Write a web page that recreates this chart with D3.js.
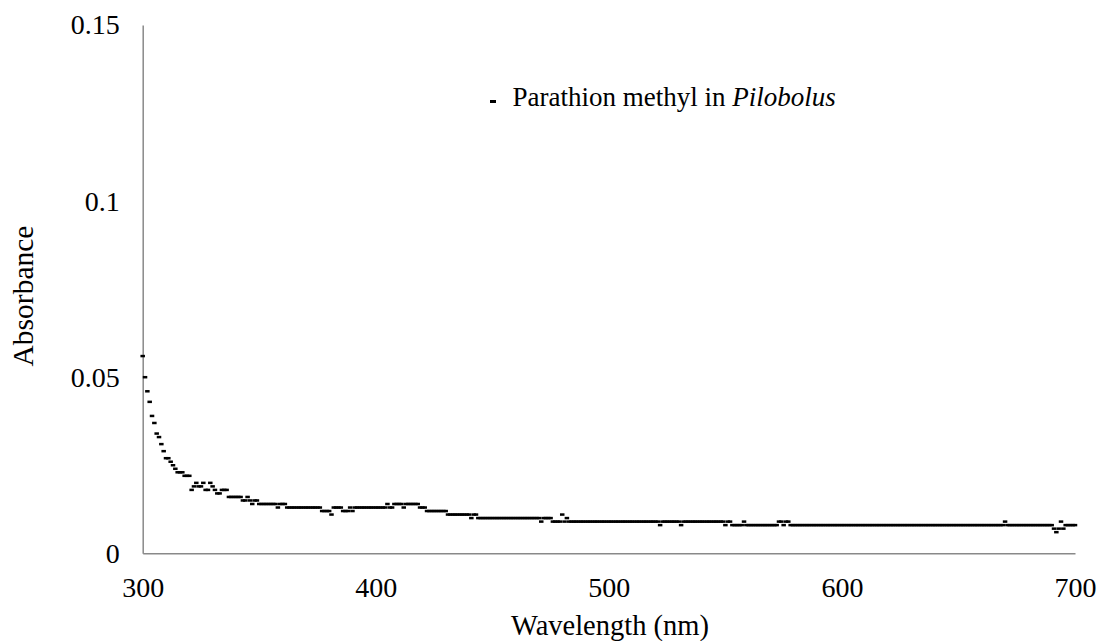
<!DOCTYPE html>
<html>
<head>
<meta charset="utf-8">
<script src="https://cdn.jsdelivr.net/npm/d3@7"></script>
</head>
<body style="margin:0">
<div class="container"></div>
<script>
// Data (one reading per nm, 300-700)
const wavelengths = d3.range(300, 701);
const absorbance = [
  // 300
  0.056, 0.050, 0.046, 0.043, 0.039, 0.037, 0.034, 0.033, 0.031, 0.029,
  // 310
  0.027, 0.027, 0.026, 0.025, 0.024, 0.023, 0.023, 0.023, 0.022, 0.022,
  // 320
  0.022, 0.018, 0.019, 0.020, 0.019, 0.019, 0.020, 0.018, 0.018, 0.020,
  // 330
  0.019, 0.018, 0.017, 0.017, 0.018, 0.018, 0.018, 0.016, 0.016, 0.016,
  // 340
  0.016, 0.016, 0.016, 0.015, 0.015, 0.016, 0.015, 0.014, 0.015, 0.015,
  // 350
  0.014, 0.014, 0.014, 0.014, 0.014, 0.014, 0.014, 0.014, 0.013, 0.014,
  // 360
  0.014, 0.014, 0.013, 0.013, 0.013, 0.013, 0.013, 0.013, 0.013, 0.013,
  // 370
  0.013, 0.013, 0.013, 0.013, 0.013, 0.013, 0.013, 0.012, 0.012, 0.012,
  // 380
  0.012, 0.011, 0.013, 0.013, 0.013, 0.013, 0.012, 0.012, 0.012, 0.013,
  // 390
  0.012, 0.013, 0.013, 0.013, 0.013, 0.013, 0.013, 0.013, 0.013, 0.013,
  // 400
  0.013, 0.013, 0.013, 0.013, 0.013, 0.014, 0.013, 0.013, 0.014, 0.014,
  // 410
  0.014, 0.014, 0.013, 0.014, 0.014, 0.014, 0.014, 0.014, 0.014, 0.013,
  // 420
  0.013, 0.013, 0.012, 0.012, 0.012, 0.012, 0.012, 0.012, 0.012, 0.012,
  // 430
  0.012, 0.011, 0.011, 0.011, 0.011, 0.011, 0.011, 0.011, 0.011, 0.011,
  // 440
  0.011, 0.010, 0.011, 0.011, 0.010, 0.010, 0.010, 0.010, 0.010, 0.010,
  // 450
  0.010, 0.010, 0.010, 0.010, 0.010, 0.010, 0.010, 0.010, 0.010, 0.010,
  // 460
  0.010, 0.010, 0.010, 0.010, 0.010, 0.010, 0.010, 0.010, 0.010, 0.010,
  // 470
  0.010, 0.009, 0.010, 0.010, 0.010, 0.010, 0.009, 0.009, 0.009, 0.009,
  // 480
  0.011, 0.009, 0.010, 0.009, 0.009, 0.009, 0.009, 0.009, 0.009, 0.009,
  // 490
  0.009, 0.009, 0.009, 0.009, 0.009, 0.009, 0.009, 0.009, 0.009, 0.009,
  // 500
  0.009, 0.009, 0.009, 0.009, 0.009, 0.009, 0.009, 0.009, 0.009, 0.009,
  // 510
  0.009, 0.009, 0.009, 0.009, 0.009, 0.009, 0.009, 0.009, 0.009, 0.009,
  // 520
  0.009, 0.009, 0.008, 0.009, 0.009, 0.009, 0.009, 0.009, 0.009, 0.009,
  // 530
  0.009, 0.008, 0.009, 0.009, 0.009, 0.009, 0.009, 0.009, 0.009, 0.009,
  // 540
  0.009, 0.009, 0.009, 0.009, 0.009, 0.009, 0.009, 0.009, 0.009, 0.009,
  // 550
  0.008, 0.009, 0.009, 0.008, 0.008, 0.008, 0.008, 0.008, 0.009, 0.008,
  // 560
  0.008, 0.008, 0.008, 0.008, 0.008, 0.008, 0.008, 0.008, 0.008, 0.008,
  // 570
  0.008, 0.008, 0.008, 0.009, 0.009, 0.008, 0.009, 0.009, 0.008, 0.008,
  // 580
  0.008, 0.008, 0.008, 0.008, 0.008, 0.008, 0.008, 0.008, 0.008, 0.008,
  // 590
  0.008, 0.008, 0.008, 0.008, 0.008, 0.008, 0.008, 0.008, 0.008, 0.008,
  // 600
  0.008, 0.008, 0.008, 0.008, 0.008, 0.008, 0.008, 0.008, 0.008, 0.008,
  // 610
  0.008, 0.008, 0.008, 0.008, 0.008, 0.008, 0.008, 0.008, 0.008, 0.008,
  // 620
  0.008, 0.008, 0.008, 0.008, 0.008, 0.008, 0.008, 0.008, 0.008, 0.008,
  // 630
  0.008, 0.008, 0.008, 0.008, 0.008, 0.008, 0.008, 0.008, 0.008, 0.008,
  // 640
  0.008, 0.008, 0.008, 0.008, 0.008, 0.008, 0.008, 0.008, 0.008, 0.008,
  // 650
  0.008, 0.008, 0.008, 0.008, 0.008, 0.008, 0.008, 0.008, 0.008, 0.008,
  // 660
  0.008, 0.008, 0.008, 0.008, 0.008, 0.008, 0.008, 0.008, 0.008, 0.008,
  // 670
  0.009, 0.008, 0.008, 0.008, 0.008, 0.008, 0.008, 0.008, 0.008, 0.008,
  // 680
  0.008, 0.008, 0.008, 0.008, 0.008, 0.008, 0.008, 0.008, 0.008, 0.008,
  // 690
  0.008, 0.007, 0.006, 0.007, 0.009, 0.007, 0.008, 0.008, 0.008, 0.008,
  // 700
  0.008
];
const xTicks = [300, 400, 500, 600, 700];
const yTicks = [0, 0.05, 0.1, 0.15];
const yTickLabels = ['0', '0.05', '0.1', '0.15'];
const seriesName = 'Parathion methyl in ';
const seriesGenus = 'Pilobolus';

// Layout
const width = 1099;
const height = 641;
const plotLeft = 142.7;
const plotRight = 1075;
const plotTop = 25;
const plotBottom = 553.3;
const axisColor = '#898989';
const font = '"Liberation Serif"';

const points = wavelengths.map((w, i) => ({ w, a: absorbance[i] }));

const x = d3.scaleLinear().domain([300, 700]).range([plotLeft, plotRight]);
const y = d3.scaleLinear().domain([0, 0.15]).range([plotBottom, plotTop]);

const svg = d3
  .select('.container')
  .append('svg')
  .attr('width', width)
  .attr('height', height)
  .style('display', 'block')
  .attr('font-family', font);

// X axis
const xAxis = svg
  .append('g')
  .attr('transform', `translate(0,${plotBottom})`)
  .call(d3.axisBottom(x).tickValues(xTicks).tickSize(0).tickPadding(24).tickFormat(d3.format('d')));
xAxis.attr('font-family', font).attr('font-size', 28);
xAxis.select('.domain').attr('stroke', axisColor).attr('stroke-width', 1.5);
xAxis.selectAll('text').attr('fill', '#000').attr('font-family', font);

// Y axis
const yAxis = svg
  .append('g')
  .attr('transform', `translate(${plotLeft},0)`)
  .call(d3.axisLeft(y).tickValues(yTicks).tickSize(0).tickPadding(23).tickFormat((d, i) => yTickLabels[i]));
yAxis.attr('font-family', font).attr('font-size', 28);
yAxis.select('.domain').attr('stroke', axisColor).attr('stroke-width', 1.5);
yAxis.selectAll('text').attr('fill', '#000').attr('font-family', font);

// Axis titles
svg
  .append('text')
  .attr('x', 610)
  .attr('y', 635)
  .attr('text-anchor', 'middle')
  .attr('font-family', font)
  .attr('font-size', 28.5)
  .text('Wavelength (nm)');

svg
  .append('text')
  .attr('transform', 'translate(33,296) rotate(-90)')
  .attr('text-anchor', 'middle')
  .attr('font-family', font)
  .attr('font-size', 29.5)
  .text('Absorbance');

// Dash markers
svg
  .append('g')
  .attr('class', 'markers')
  .selectAll('rect')
  .data(points)
  .enter()
  .append('rect')
  .attr('x', (d) => x(d.w) - 2.25)
  .attr('y', (d) => y(d.a) - 1.25)
  .attr('width', 4.5)
  .attr('height', 2.5)
  .attr('fill', '#000');

// Legend
const legend = svg.append('g').attr('class', 'legend');
legend
  .append('rect')
  .attr('x', 490)
  .attr('y', 100)
  .attr('width', 6)
  .attr('height', 3)
  .attr('fill', '#000');
const legendText = legend
  .append('text')
  .attr('x', 512.5)
  .attr('y', 106)
  .attr('font-family', font)
  .attr('font-size', 27);
legendText.append('tspan').text(seriesName);
legendText.append('tspan').attr('font-style', 'italic').text(seriesGenus);
</script>
</body>
</html>
